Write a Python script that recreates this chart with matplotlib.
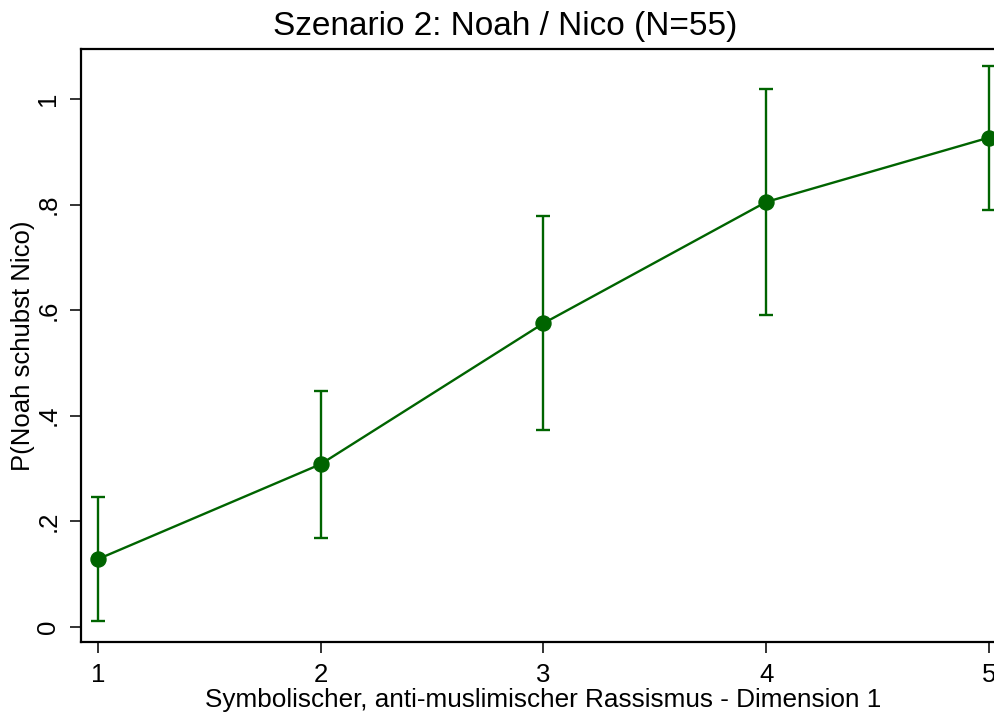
import matplotlib.pyplot as plt
import numpy as np

plt.rcParams['font.family'] = ['Liberation Sans', 'DejaVu Sans']

# predicted probabilities with 95% CIs
levels = [1, 2, 3, 4, 5]
prob = [0.128, 0.308, 0.575, 0.805, 0.927]
ci_low = [0.011, 0.168, 0.373, 0.590, 0.790]
ci_high = [0.245, 0.447, 0.778, 1.019, 1.063]

yticks = [0, 0.2, 0.4, 0.6, 0.8, 1.0]
ytick_labels = ['0', '.2', '.4', '.6', '.8', '1']

green = '#006400'

fig = plt.figure(figsize=(9.95, 7.16), dpi=100)
ax = fig.add_axes([0.0814, 0.1034, 0.9296, 0.8275])

prob = np.array(prob)
yerr = [prob - np.array(ci_low), np.array(ci_high) - prob]
ax.errorbar(levels, prob, yerr=yerr, color=green, lw=1.7, marker='o', ms=10.8,
            capsize=5, capthick=1.7, elinewidth=1.7, zorder=3, clip_on=False)

ax.set_xlim(0.924, 5.076)
ax.set_ylim(-0.029, 1.094)
ax.set_xticks(levels)
ax.set_yticks(yticks)
ax.set_yticklabels(ytick_labels, rotation=90, va='center')
ax.tick_params(direction='out', length=8, width=1.4, labelsize=18.5, pad=7,
               color='#333333')

for s in ax.spines.values():
    s.set_linewidth(1.6)

ax.set_xlabel('Symbolischer, anti-muslimischer Rassismus - Dimension 1',
              fontsize=18.8, labelpad=1)
ax.set_ylabel('P(Noah schubst Nico)', fontsize=18.5, labelpad=1)
fig.text(505 / 995, 1 - 27 / 716, 'Szenario 2: Noah / Nico (N=55)',
         ha='center', va='center', fontsize=24)

fig.savefig('out.png', dpi=100)
